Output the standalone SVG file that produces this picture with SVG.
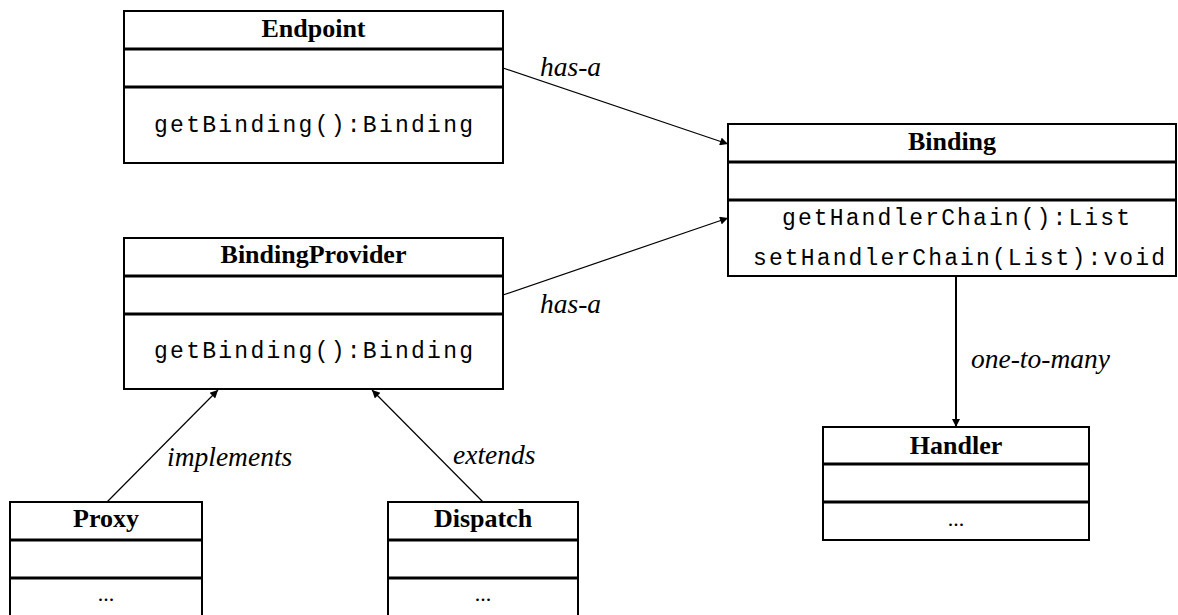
<svg xmlns="http://www.w3.org/2000/svg" width="1178" height="615" viewBox="0 0 1178 615">
<style>
.box{fill:#fff;stroke:#000;stroke-width:2}
.div{stroke:#000;stroke-width:3}
.title{font-family:"Liberation Serif","Times New Roman",serif;font-weight:bold;font-size:26px;text-anchor:middle;fill:#000}
.mono{font-family:"Liberation Mono","Courier New",monospace;font-size:23px;text-anchor:middle;fill:#000}
.dots{font-family:"Liberation Serif","Times New Roman",serif;font-size:22px;text-anchor:middle;fill:#000}
.lbl{font-family:"Liberation Serif","Times New Roman",serif;font-style:italic;font-size:27.5px;fill:#000}
.conn{stroke:#000;stroke-width:1.2;fill:none;marker-end:url(#ah)}
.conn2{stroke:#000;stroke-width:2;fill:none;marker-end:url(#ah)}
</style>
<defs>
<marker id="ah" viewBox="0 0 10 10" refX="10" refY="5" markerWidth="10" markerHeight="8" markerUnits="userSpaceOnUse" orient="auto"><path d="M0,0 L10,5 L0,10 z" fill="#000"/></marker>
</defs>
<g id="connectors">
<line class="conn" x1="503" y1="68" x2="728" y2="144"/>
<line class="conn" x1="503" y1="295" x2="728" y2="218"/>
<line class="conn" x1="107" y1="502" x2="218" y2="390"/>
<line class="conn" x1="483" y1="502" x2="372" y2="390"/>
<line class="conn2" x1="956" y1="276" x2="956" y2="427"/>
<text class="lbl" x="540" y="76">has-a</text>
<text class="lbl" x="540" y="313">has-a</text>
<text class="lbl" x="167" y="466">implements</text>
<text class="lbl" x="453" y="464">extends</text>
<text class="lbl" x="971" y="368">one-to-many</text>
</g>
<g id="endpoint">
<rect class="box" x="124" y="11" width="379" height="152"/>
<line class="div" x1="124" y1="49" x2="503" y2="49"/>
<line class="div" x1="124" y1="87" x2="503" y2="87"/>
<text class="title" x="313.5" y="37">Endpoint</text>
<text class="mono" x="313.5" y="132" textLength="319" lengthAdjust="spacing">getBinding():Binding</text>
</g>
<g id="bindingprovider">
<rect class="box" x="124" y="238" width="379" height="151"/>
<line class="div" x1="124" y1="276" x2="503" y2="276"/>
<line class="div" x1="124" y1="314" x2="503" y2="314"/>
<text class="title" x="313.5" y="263">BindingProvider</text>
<text class="mono" x="313.5" y="358" textLength="319" lengthAdjust="spacing">getBinding():Binding</text>
</g>
<g id="binding">
<rect class="box" x="728" y="124" width="448" height="152"/>
<line class="div" x1="728" y1="162" x2="1176" y2="162"/>
<line class="div" x1="728" y1="200" x2="1176" y2="200"/>
<text class="title" x="952" y="150">Binding</text>
<text class="mono" x="956" y="225" textLength="348" lengthAdjust="spacing">getHandlerChain():List</text>
<text class="mono" x="959" y="265" textLength="412" lengthAdjust="spacing">setHandlerChain(List):void</text>
</g>
<g id="handler">
<rect class="box" x="823" y="427" width="266" height="113"/>
<line class="div" x1="823" y1="464" x2="1089" y2="464"/>
<line class="div" x1="823" y1="502" x2="1089" y2="502"/>
<text class="title" x="956" y="454">Handler</text>
<text class="dots" x="956" y="526">...</text>
</g>
<g id="proxy">
<rect class="box" x="10" y="502" width="192" height="120"/>
<line class="div" x1="10" y1="540" x2="202" y2="540"/>
<line class="div" x1="10" y1="578" x2="202" y2="578"/>
<text class="title" x="106" y="527">Proxy</text>
<text class="dots" x="106" y="601">...</text>
</g>
<g id="dispatch">
<rect class="box" x="388" y="502" width="190" height="120"/>
<line class="div" x1="388" y1="540" x2="578" y2="540"/>
<line class="div" x1="388" y1="578" x2="578" y2="578"/>
<text class="title" x="483" y="527">Dispatch</text>
<text class="dots" x="483" y="601">...</text>
</g>
</svg>
